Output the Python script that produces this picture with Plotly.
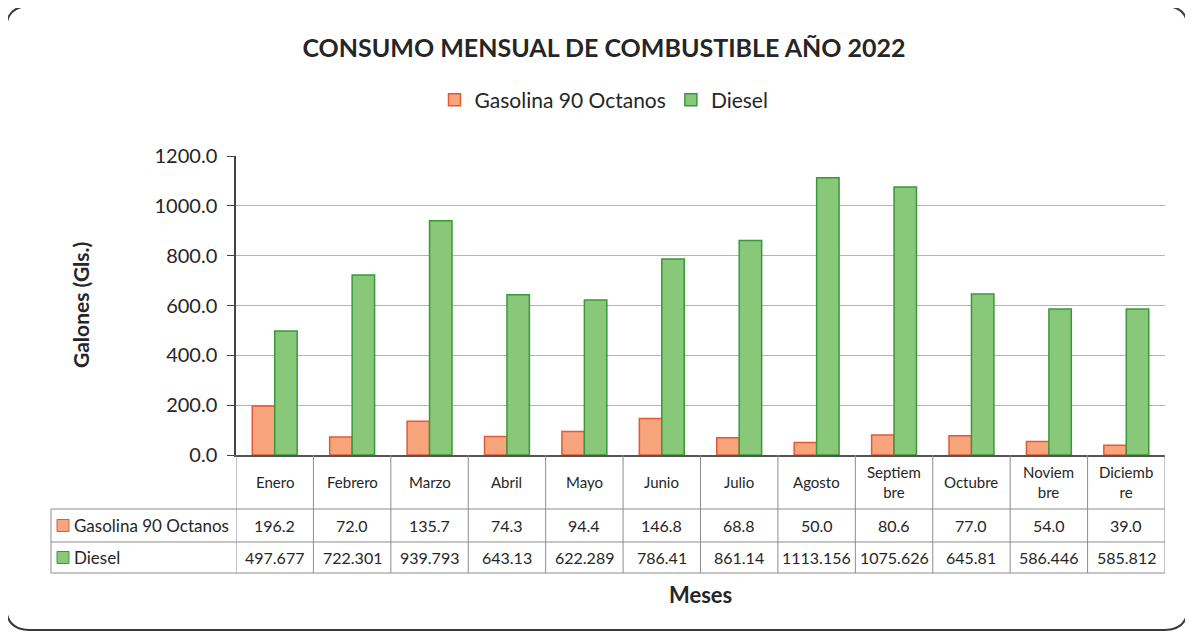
import plotly.graph_objects as go

meses = ["Enero", "Febrero", "Marzo", "Abril", "Mayo", "Junio", "Julio",
         "Agosto", "Septiembre", "Octubre", "Noviembre", "Diciembre"]
etiquetas = ["Enero", "Febrero", "Marzo", "Abril", "Mayo", "Junio", "Julio",
             "Agosto", "Septiem<br>bre", "Octubre", "Noviem<br>bre", "Diciemb<br>re"]
gasolina = [196.2, 72.0, 135.7, 74.3, 94.4, 146.8, 68.8, 50.0, 80.6, 77.0, 54.0, 39.0]
diesel = [497.677, 722.301, 939.793, 643.13, 622.289, 786.41, 861.14,
          1113.156, 1075.626, 645.81, 586.446, 585.812]

# page body has an 8px margin, so the figure is drawn 8px in from the corner
OFF = 8
W, H = 1193 - OFF, 634 - OFF
L, R, T, B = 236, 1165, 156, 455          # plot area in screen pixels
pw, ph = R - L, B - T


def px(x):
    return (x - L) / pw


def py(y):
    return (B - y) / ph


FONT = "Lato, 'Noto Sans', sans-serif"
NAR = "#F8A47D"
NAR_LINE = "#E05A38"
VER = "#89C878"
VER_LINE = "#3A983A"
GRID = "#8c8c8c"
TXT = "#262626"

fig = go.Figure()
fig.add_trace(go.Bar(x=meses, y=gasolina, name="Gasolina 90 Octanos",
                     marker=dict(color=NAR, line=dict(color=NAR_LINE, width=1.5))))
fig.add_trace(go.Bar(x=meses, y=diesel, name="Diesel",
                     marker=dict(color=VER, line=dict(color=VER_LINE, width=1.5))))

shapes = []
ann = []

# table rows (screen y of borders)
r0, r1, r2, r3 = 455, 509, 542, 573
left_col = 51

for yy in (r1, r2, r3):
    shapes.append(dict(type="line", xref="paper", yref="paper", x0=px(left_col), x1=1,
                       y0=py(yy), y1=py(yy), line=dict(color=GRID, width=1)))
for i in range(len(meses) + 1):
    shapes.append(dict(type="line", xref="x", yref="paper", x0=i - 0.5, x1=i - 0.5,
                       y0=0, y1=py(r3), line=dict(color=GRID, width=1)))
shapes.append(dict(type="line", xref="paper", yref="paper", x0=px(left_col), x1=px(left_col),
                   y0=py(r1), y1=py(r3), line=dict(color=GRID, width=1)))

for i, lab in enumerate(etiquetas):
    ann.append(dict(x=i, xref="x", y=py((r0 + r1) / 2), yref="paper", text=lab,
                    showarrow=False, font=dict(size=15, color=TXT), yanchor="middle"))
for i in range(len(meses)):
    ann.append(dict(x=i, xref="x", y=py((r1 + r2) / 2), yref="paper", text=f"{gasolina[i]:.1f}",
                    showarrow=False, font=dict(size=16, color=TXT), yanchor="middle"))
    ann.append(dict(x=i, xref="x", y=py((r2 + r3) / 2), yref="paper", text=str(diesel[i]),
                    showarrow=False, font=dict(size=16, color=TXT), yanchor="middle"))

# legend keys inside the table
for (yy0, yy1, col, lc, name) in [(r1, r2, NAR, NAR_LINE, "Gasolina 90 Octanos"),
                                  (r2, r3, VER, VER_LINE, "Diesel")]:
    cy = (yy0 + yy1) / 2
    shapes.append(dict(type="rect", xref="paper", yref="paper", x0=px(57), x1=px(69),
                       y0=py(cy + 6), y1=py(cy - 6), fillcolor=col, line=dict(color=lc, width=1)))
    ann.append(dict(x=px(72), xref="paper", y=py(cy), yref="paper", text=name, showarrow=False,
                    xanchor="left", yanchor="middle", font=dict(size=17, color=TXT)))

# axis titles
ann.append(dict(x=px(80), xref="paper", y=py(305), yref="paper", text="<b>Galones (Gls.)</b>",
                textangle=-90, showarrow=False, xanchor="center", yanchor="middle",
                font=dict(size=21, color=TXT)))
ann.append(dict(x=px(700), xref="paper", y=py(594), yref="paper", text="<b>Meses</b>",
                showarrow=False, xanchor="center", yanchor="middle",
                font=dict(size=22, color=TXT)))

# rounded frame
fx0, fx1, fy0, fy1 = 6, 1188, 6, 630
rad = 24
path = (f"M {px(fx0 + rad)},{py(fy0)} L {px(fx1 - rad)},{py(fy0)} "
        f"Q {px(fx1)},{py(fy0)} {px(fx1)},{py(fy0 + rad)} "
        f"L {px(fx1)},{py(fy1 - rad)} Q {px(fx1)},{py(fy1)} {px(fx1 - rad)},{py(fy1)} "
        f"L {px(fx0 + rad)},{py(fy1)} Q {px(fx0)},{py(fy1)} {px(fx0)},{py(fy1 - rad)} "
        f"L {px(fx0)},{py(fy0 + rad)} Q {px(fx0)},{py(fy0)} {px(fx0 + rad)},{py(fy0)} Z")
shapes.append(dict(type="path", xref="paper", yref="paper", path=path,
                   line=dict(color="#3a3a3a", width=2)))

fig.update_layout(
    width=W, height=H,
    margin=dict(l=L - OFF, r=W - (R - OFF), t=T - OFF, b=H - (B - OFF)),
    paper_bgcolor="white", plot_bgcolor="white",
    font=dict(family=FONT, color=TXT),
    title=dict(text="<b>CONSUMO MENSUAL DE COMBUSTIBLE AÑO 2022</b>",
               x=(604 - OFF) / W, xanchor="center",
               y=1 - (48 - OFF) / H, yanchor="middle", font=dict(size=25, color=TXT)),
    barmode="group", bargap=0.42, bargroupgap=0.0,
    legend=dict(orientation="h", x=px(604), xanchor="center", y=py(100), yanchor="middle",
                font=dict(size=21, color=TXT), itemwidth=30),
    showlegend=True,
    shapes=shapes, annotations=ann,
)
fig.update_xaxes(showticklabels=False, showline=True, linecolor="#555", linewidth=1.5,
                 ticks="", range=[-0.5, len(meses) - 0.5])
fig.update_yaxes(range=[0, 1200], dtick=200, tickformat=".1f", showgrid=True, gridcolor="#b4b4b4",
                 gridwidth=1, showline=True, linecolor="#444", linewidth=1.5, ticks="outside",
                 ticklen=7, tickcolor="#444", tickfont=dict(size=20, color=TXT), zeroline=False,
                 ticklabelstandoff=6)

fig.write_html("out.html")
